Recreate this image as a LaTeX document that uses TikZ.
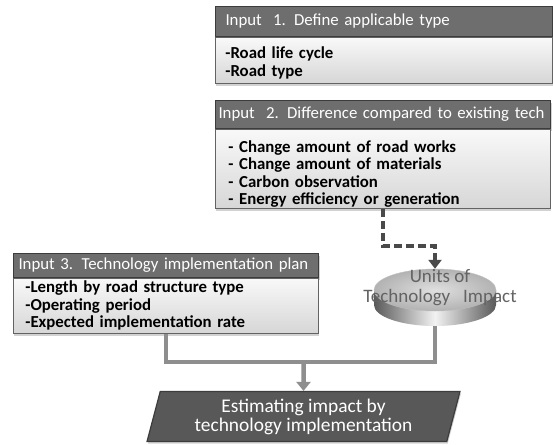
\documentclass[tikz,border=0pt]{standalone}
\usepackage{fontspec}
\setmainfont{Carlito}
\usetikzlibrary{shapes.geometric,arrows.meta,shadows}
\definecolor{hdrfill}{HTML}{6E6E6E}
\definecolor{edgec}{HTML}{3C3C3C}
\definecolor{conngray}{HTML}{8E8E8E}
\definecolor{dashgray}{HTML}{4A4A4A}
\definecolor{estfill}{HTML}{585858}
\definecolor{disktext}{HTML}{636363}
\begin{document}
\begin{tikzpicture}[x=1pt,y=-1pt,
  hdr/.style={draw=edgec, line width=1pt, fill=hdrfill, text=white, anchor=north west,
    align=left, inner ysep=1pt, font=\fontsize{16.8}{18}\selectfont,
    drop shadow={shadow xshift=1pt,shadow yshift=-2pt,opacity=0.35}},
  bodybox/.style={draw=edgec!80, line width=0.8pt, top color=gray!5, bottom color=gray!32,
    anchor=north west, align=left, inner ysep=1pt,
    font=\bfseries\fontsize{16.8}{17.5}\selectfont,
    drop shadow={shadow xshift=1pt,shadow yshift=-2.5pt,opacity=0.35}},
  conn/.style={draw=conngray, line width=4.5pt},
  dashconn/.style={draw=dashgray, line width=3.5pt, dash pattern=on 8pt off 4pt},
  est/.style={trapezium, trapezium left angle=75, trapezium right angle=105,
    trapezium stretches=true, draw=edgec, line width=1.2pt, fill=estfill, text=white,
    align=center, minimum width=313pt, minimum height=50pt, inner sep=1pt,
    font=\fontsize{19.4}{19}\selectfont,
    drop shadow={shadow xshift=1pt,shadow yshift=-2pt,opacity=0.35}}
]
\useasboundingbox (0,0) rectangle (553,444);
\fill[white] (0,0) rectangle (553,444);

% Box 1
\node[hdr, text width=317pt, inner xsep=10pt, minimum height=30pt] (h1) at (215,6)
  {Input\ \ 1. Define applicable type};
\node[bodybox, text width=317pt, inner xsep=10pt, minimum height=46pt] (b1) at (h1.south west)
  {\rule{0pt}{17pt}-Road life cycle\\-Road type};

% Box 2
\node[hdr, text width=329pt, inner xsep=3pt, minimum height=28pt] (h2) at (215,100)
  {Input\ \ 2. Difference compared to existing tech};
\node[bodybox, text width=309pt, inner xsep=13pt, minimum height=75pt] (b2) at (h2.south west)
  {\rule{0pt}{22pt}- Change amount of road works\\- Change amount of materials\\- Carbon observation\\- Energy efficiency or generation};

% Box 3
\node[hdr, text width=295pt, inner xsep=5pt, minimum height=24pt] (h3) at (13,253)
  {Input 3. Technology implementation plan};
\node[bodybox, text width=281pt, inner xsep=12pt, minimum height=55pt] (b3) at (h3.south west)
  {-Length by road structure type\\-Operating period\\-Expected implementation rate};

% Disk (Units of Technology Impact)
\shade[left color=gray!70!black, right color=gray!70!black, middle color=gray!10]
  (374,290) -- (374,305) arc[start angle=180, end angle=360, x radius=61pt, y radius=21pt]
  -- (496,290) -- cycle;
\shade[inner color=gray!25, outer color=gray!60, draw=gray!50]
  (435,290) ellipse [x radius=61pt, y radius=21pt];
\node[minimum width=122pt, minimum height=57pt, inner sep=0pt] (disk) at (435,297.5) {};
\node[text=disktext, align=center, font=\fontsize{19}{20}\selectfont] (unitslbl) at (440,288)
  {Units of\\Technology\ \ \ Impact};

% Estimating node
\node[est] (estn) at (303.5,416.5) {Estimating impact by\\technology implementation};

% Connectors
\draw[dashconn, -{Triangle[width=13pt,length=9pt]}] (b2.south) -- ++(0,37) -| (disk.north);
\coordinate (join) at (303.5,362);
\draw[conn] (b3.south) |- (join) -| (disk.south);
\draw[conn, -{Triangle[width=14pt,length=9pt]}] (join) -- (estn.north);
\end{tikzpicture}
\end{document}
